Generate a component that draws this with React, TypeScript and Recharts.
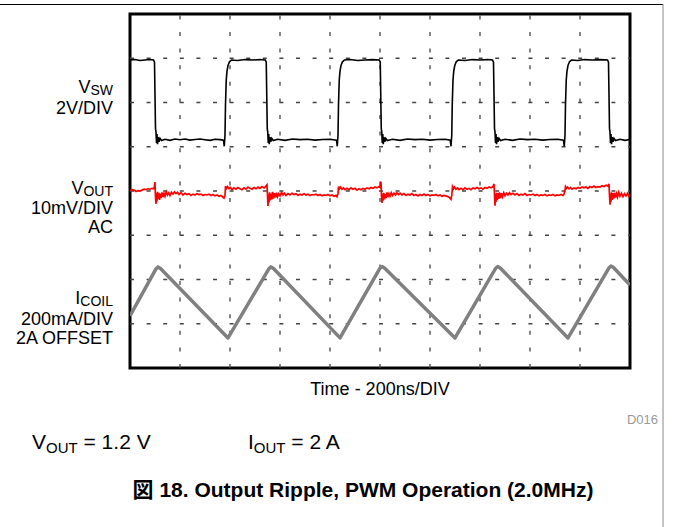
import React from 'react'
import { LineChart, Line, XAxis, YAxis, ReferenceLine, ReferenceArea } from 'recharts'

// scope screen: 10 div x 200ns, 8 div vertical
const TIME_TICKS = [200, 400, 600, 800, 1000, 1200, 1400, 1600, 1800]
const DIV_TICKS = [1, 2, 3, 4, 5, 6, 7]

// [time ns, volts] switch node, 2V/DIV
const VSW: [number, number][] = [
  [0, 3.6], [20, 3.62], [40, 3.58], [60, 3.6], [80, 3.62], [94, 3.6], [98, 3.5], [100, 2.0], [102, 0.5],
  [104, 0.35], [106, -0.15], [108, 0.25], [110, -0.2], [113, 0.12], [116, -0.1], [120, 0.06], [126, -0.04],
  [140, 0.02], [160, -0.03], [180, 0.03], [200, 0], [220, 0.03], [240, -0.02], [260, 0.01], [280, 0.03],
  [300, 0], [320, -0.03], [340, 0.02], [360, 0], [374, -0.02], [377, -0.3], [380, 0.2], [382, 1.6],
  [385, 2.7], [388, 3.1], [392, 3.35], [398, 3.52], [406, 3.6], [430, 3.58], [460, 3.62], [490, 3.6],
  [520, 3.62], [541, 3.6], [545, 3.5], [547, 2.0], [549, 0.5], [551, 0.35], [553, -0.15], [555, 0.25],
  [557, -0.2], [560, 0.12], [563, -0.1], [567, 0.06], [573, -0.04], [590, 0.02], [620, -0.03], [650, 0.03],
  [680, 0], [710, 0.02], [740, -0.02], [770, 0.01], [800, 0.02], [826, -0.02], [829, -0.3], [832, 0.2],
  [834, 1.6], [837, 2.7], [840, 3.1], [844, 3.35], [850, 3.52], [858, 3.6], [880, 3.62], [910, 3.58],
  [940, 3.6], [970, 3.62], [997, 3.6], [1001, 3.5], [1003, 2.0], [1005, 0.5], [1007, 0.35], [1009, -0.15],
  [1011, 0.25], [1013, -0.2], [1016, 0.12], [1019, -0.1], [1023, 0.06], [1029, -0.04], [1050, 0.02],
  [1080, -0.03], [1110, 0.03], [1140, 0], [1170, 0.02], [1200, -0.02], [1230, 0.01], [1260, 0.02],
  [1281, -0.02], [1284, -0.3], [1287, 0.2], [1289, 1.6], [1292, 2.7], [1295, 3.1], [1299, 3.35],
  [1305, 3.52], [1313, 3.6], [1340, 3.58], [1370, 3.62], [1400, 3.6], [1430, 3.62], [1450, 3.6],
  [1454, 3.5], [1456, 2.0], [1458, 0.5], [1460, 0.35], [1462, -0.15], [1464, 0.25], [1466, -0.2],
  [1469, 0.12], [1472, -0.1], [1476, 0.06], [1482, -0.04], [1500, 0.02], [1530, -0.03], [1560, 0.03],
  [1590, 0], [1620, 0.02], [1650, -0.02], [1680, 0.01], [1710, 0.02], [1734, -0.02], [1737, -0.3],
  [1740, 0.2], [1742, 1.6], [1745, 2.7], [1748, 3.1], [1752, 3.35], [1758, 3.52], [1766, 3.6],
  [1790, 3.58], [1820, 3.62], [1850, 3.6], [1880, 3.62], [1910, 3.6], [1914, 3.5], [1916, 2.0],
  [1918, 0.5], [1920, 0.35], [1922, -0.15], [1924, 0.25], [1926, -0.2], [1929, 0.12], [1932, -0.1],
  [1936, 0.06], [1942, -0.04], [1960, 0.02], [1980, -0.03], [2000, 0.01],
]

// [time ns, mV] output ripple, 10mV/DIV AC
const VOUT: [number, number][] = [
  [0, 0.1], [8, 0.3], [16, 0.2], [24, -0.1], [32, 0.1], [40, 0.0], [48, 0.2], [56, 0.4], [64, 0.3],
  [72, 0.5], [80, 0.4], [88, 0.6], [96, 0.5],
  [100, 2.0], [102, -1.5], [104, -2.9], [106, -0.5], [108, -2.3], [110, -0.2], [112, -1.8], [115, -0.4],
  [118, -2.0], [121, -0.6], [124, -1.6], [128, -0.3], [132, -1.4], [136, -0.5], [140, -1.2], [145, -0.2],
  [150, -0.9], [155, -0.4], [160, -1.0], [166, -0.3], [172, -0.7], [178, -0.2], [184, -0.6], [190, -0.3],
  [196, -0.8], [204, -0.4], [212, -0.9], [220, -0.5], [228, -0.8], [236, -0.6], [244, -1.0], [252, -0.7],
  [260, -0.9], [268, -0.6], [276, -0.8], [284, -0.7], [292, -1.0], [300, -0.8], [308, -0.9], [316, -0.7],
  [324, -1.0], [332, -0.8], [340, -1.1], [348, -0.9], [356, -1.2], [364, -1.0], [370, -1.3], [376, -1.6],
  [380, -1.0], [382, 1.1], [386, 0.6], [390, 1.0], [396, 0.5], [402, 0.8], [408, 0.3], [416, 0.7],
  [424, 0.4], [432, 0.8], [440, 0.5], [448, 0.3], [456, 0.7], [464, 0.4], [472, 0.9], [480, 0.6],
  [488, 0.4], [496, 0.8], [504, 0.5], [512, 0.9], [520, 0.6], [528, 1.0], [536, 0.7], [544, 1.1],
  [548, 1.4], [550, -1.0], [552, -3.4], [554, -0.8], [556, -2.6], [558, -0.3], [561, -2.1], [564, -0.6],
  [567, -1.9], [570, -0.2], [574, -1.7], [578, -0.5], [582, -1.5], [586, -0.4], [590, -1.3], [595, -0.6],
  [600, -1.1], [606, -0.3], [612, -0.9], [618, -0.5], [624, -1.0], [632, -0.6], [640, -0.9], [648, -0.5],
  [656, -0.8], [664, -0.6], [672, -1.0], [680, -0.7], [688, -0.9], [696, -0.6], [704, -0.9], [712, -0.7],
  [720, -1.0], [728, -0.8], [736, -0.9], [744, -0.7], [752, -1.0], [760, -0.8], [768, -1.1], [776, -0.9],
  [784, -1.0], [792, -0.8], [800, -1.1], [808, -0.9], [816, -1.2], [824, -1.0], [828, -1.3],
  [832, -0.6], [834, 1.0], [838, 0.5], [842, 0.9], [848, 0.4], [854, 0.7], [860, 0.3], [868, 0.6],
  [876, 0.3], [884, 0.7], [892, 0.4], [900, 0.6], [908, 0.2], [916, 0.5], [924, 0.3], [932, 0.6],
  [940, 0.4], [948, 0.7], [956, 0.5], [964, 0.8], [972, 0.6], [980, 0.9], [988, 0.7], [996, 1.0], [1000, 0.8],
  [1004, 2.1], [1006, -1.2], [1008, -2.7], [1010, -0.6], [1012, -2.2], [1015, -0.4], [1018, -1.9],
  [1021, -0.7], [1024, -1.6], [1028, -0.3], [1032, -1.4], [1036, -0.6], [1040, -1.2], [1045, -0.4],
  [1050, -1.0], [1056, -0.5], [1062, -0.9], [1068, -0.4], [1074, -0.8], [1080, -0.5], [1088, -0.9],
  [1096, -0.6], [1104, -1.0], [1112, -0.7], [1120, -0.9], [1128, -0.6], [1136, -1.0], [1144, -0.8],
  [1152, -1.1], [1160, -0.8], [1168, -1.0], [1176, -0.7], [1184, -1.0], [1192, -0.8], [1200, -1.1],
  [1208, -0.9], [1216, -1.0], [1224, -0.8], [1232, -1.1], [1240, -0.9], [1248, -1.2], [1256, -1.0],
  [1264, -1.1], [1272, -1.3], [1278, -1.5], [1284, -1.9],
  [1287, -1.0], [1290, 1.0], [1294, 0.5], [1298, 0.9], [1304, 0.4], [1310, 0.7], [1316, 0.3], [1324, 0.6],
  [1332, 0.3], [1340, 0.7], [1348, 0.4], [1356, 0.6], [1364, 0.3], [1372, 0.7], [1380, 0.5], [1388, 0.8],
  [1396, 0.5], [1404, 0.7], [1412, 0.4], [1420, 0.8], [1428, 0.6], [1436, 0.9], [1444, 0.7], [1452, 1.0],
  [1456, 1.6], [1458, -0.9], [1460, -3.3], [1462, -0.7], [1464, -2.5], [1466, -0.4], [1469, -2.0],
  [1472, -0.5], [1475, -1.8], [1478, -0.3], [1482, -1.6], [1486, -0.5], [1490, -1.3], [1495, -0.4],
  [1500, -1.1], [1506, -0.5], [1512, -0.9], [1518, -0.4], [1524, -0.8], [1532, -0.5], [1540, -0.9],
  [1548, -0.6], [1556, -1.0], [1564, -0.7], [1572, -0.9], [1580, -0.6], [1588, -1.0], [1596, -0.8],
  [1604, -0.9], [1612, -0.7], [1620, -1.0], [1628, -0.8], [1636, -1.1], [1644, -0.9], [1652, -1.0],
  [1660, -0.8], [1668, -1.1], [1676, -0.9], [1684, -1.0], [1692, -0.8], [1700, -1.1], [1708, -0.9],
  [1716, -1.0], [1724, -0.8], [1732, -1.0], [1736, -0.7],
  [1740, 0.2], [1742, 1.0], [1746, 0.6], [1750, 0.9], [1756, 0.5], [1762, 0.8], [1768, 0.4], [1776, 0.7],
  [1784, 0.5], [1792, 0.8], [1800, 0.6], [1808, 0.9], [1816, 0.7], [1824, 0.9], [1832, 0.6], [1840, 1.0],
  [1848, 0.8], [1856, 1.1], [1864, 0.8], [1872, 1.0], [1880, 0.9], [1888, 1.2], [1896, 1.0], [1904, 1.3],
  [1912, 1.1],
  [1916, 1.6], [1918, -1.0], [1920, -3.1], [1922, -0.6], [1924, -2.4], [1926, -0.3], [1929, -2.0],
  [1932, -0.5], [1935, -1.7], [1938, -0.4], [1942, -1.5], [1946, -0.6], [1950, -1.4], [1955, -0.3],
  [1960, -1.2], [1966, -0.5], [1972, -1.3], [1978, -0.6], [1984, -1.1], [1990, -0.5], [1996, -1.2], [2000, -0.8],
]

// [time ns, amps] inductor current, 200mA/DIV, 2A offset
const ICOIL: [number, number][] = [
  [0, 1.94], [104, 2.152], [112, 2.161], [122, 2.154], [392, 1.84], [556, 2.153], [564, 2.161],
  [574, 2.154], [840, 1.84], [1000, 2.155], [1008, 2.163], [1018, 2.156], [1300, 1.84], [1463, 2.155],
  [1471, 2.163], [1481, 2.156], [1752, 1.84], [1916, 2.157], [1924, 2.165], [1934, 2.158], [2000, 2.079],
]

// channel position (div) and scale (units per div)
const CH = {
  vsw: { pos: 5.16, scale: 2 },
  vout: { pos: 4.0, scale: 10 },
  icoil: { pos: 1.48, scale: 0.2, offset: 2 },
}

const vswData = VSW.map(([t, v]) => ({ t, d: CH.vsw.pos + v / CH.vsw.scale }))
const voutData = VOUT.map(([t, v]) => ({ t, d: CH.vout.pos + v / CH.vout.scale }))
const icoilData = ICOIL.map(([t, v]) => ({ t, d: CH.icoil.pos + (v - CH.icoil.offset) / CH.icoil.scale }))

const FONT = "'Liberation Sans', Arial, 'Noto Sans CJK JP', sans-serif"
const GRID = { stroke: '#444', strokeWidth: 1.3, strokeDasharray: '4 12.6' }

export default function App() {
  return (
    <div style={{ position: 'absolute', left: 0, top: 0, width: 673, height: 527, background: '#fff' }}>
      <LineChart width={673} height={527} margin={{ top: 14, right: 43, bottom: 159, left: 130 }}>
        <XAxis dataKey="t" type="number" domain={[0, 2000]} hide allowDataOverflow />
        <YAxis type="number" domain={[0, 8]} hide allowDataOverflow />
        {TIME_TICKS.map((x) => (
          <ReferenceLine key={'x' + x} x={x} {...GRID} />
        ))}
        {DIV_TICKS.map((y) => (
          <ReferenceLine key={'y' + y} y={y} {...GRID} />
        ))}
        <Line data={icoilData} dataKey="d" type="linear" stroke="#808080" strokeWidth={3.5} dot={false}
          strokeLinejoin="round" isAnimationActive={false} />
        <Line data={voutData} dataKey="d" type="linear" stroke="#ff0000" strokeWidth={1.7} dot={false}
          isAnimationActive={false} />
        <Line data={vswData} dataKey="d" type="linear" stroke="#000" strokeWidth={1.6} dot={false}
          isAnimationActive={false} />
        <ReferenceArea x1={0} x2={2000} y1={0} y2={8} fill="none" fillOpacity={0} stroke="#000" strokeWidth={3} />
      </LineChart>
      <svg width={673} height={527} style={{ position: 'absolute', left: 0, top: 0, pointerEvents: 'none' }}
        fontFamily={FONT}>
        <line x1={0} y1={4.5} x2={663} y2={4.5} stroke="#000" strokeWidth={1.2} />
        <line x1={663} y1={4} x2={663} y2={527} stroke="#888" strokeWidth={1} />
        <g fontSize={18} textAnchor="end" fill="#000">
          <text x={113} y={93}>V<tspan fontSize={14} dy={2}>SW</tspan></text>
          <text x={113} y={114}>2V/DIV</text>
          <text x={113} y={194}>V<tspan fontSize={14} dy={2}>OUT</tspan></text>
          <text x={113} y={214}>10mV/DIV</text>
          <text x={113} y={233}>AC</text>
          <text x={113} y={304}>I<tspan fontSize={14} dy={2}>COIL</tspan></text>
          <text x={113} y={325}>200mA/DIV</text>
          <text x={113} y={344}>2A OFFSET</text>
        </g>
        <text x={380} y={395} fontSize={18} textAnchor="middle">Time - 200ns/DIV</text>
        <text x={658} y={424} fontSize={13} textAnchor="end" fill="#999">D016</text>
        <text x={32} y={449} fontSize={21}>
          V<tspan fontSize={15} dy={4}>OUT</tspan><tspan dy={-4}> = 1.2 V</tspan>
        </text>
        <text x={248} y={449} fontSize={21}>
          I<tspan fontSize={15} dy={4}>OUT</tspan><tspan dy={-4}> = 2 A</tspan>
        </text>
        <text x={363} y={497} fontSize={21} fontWeight="bold" textAnchor="middle">
          図 18. Output Ripple, PWM Operation (2.0MHz)
        </text>
      </svg>
    </div>
  )
}
